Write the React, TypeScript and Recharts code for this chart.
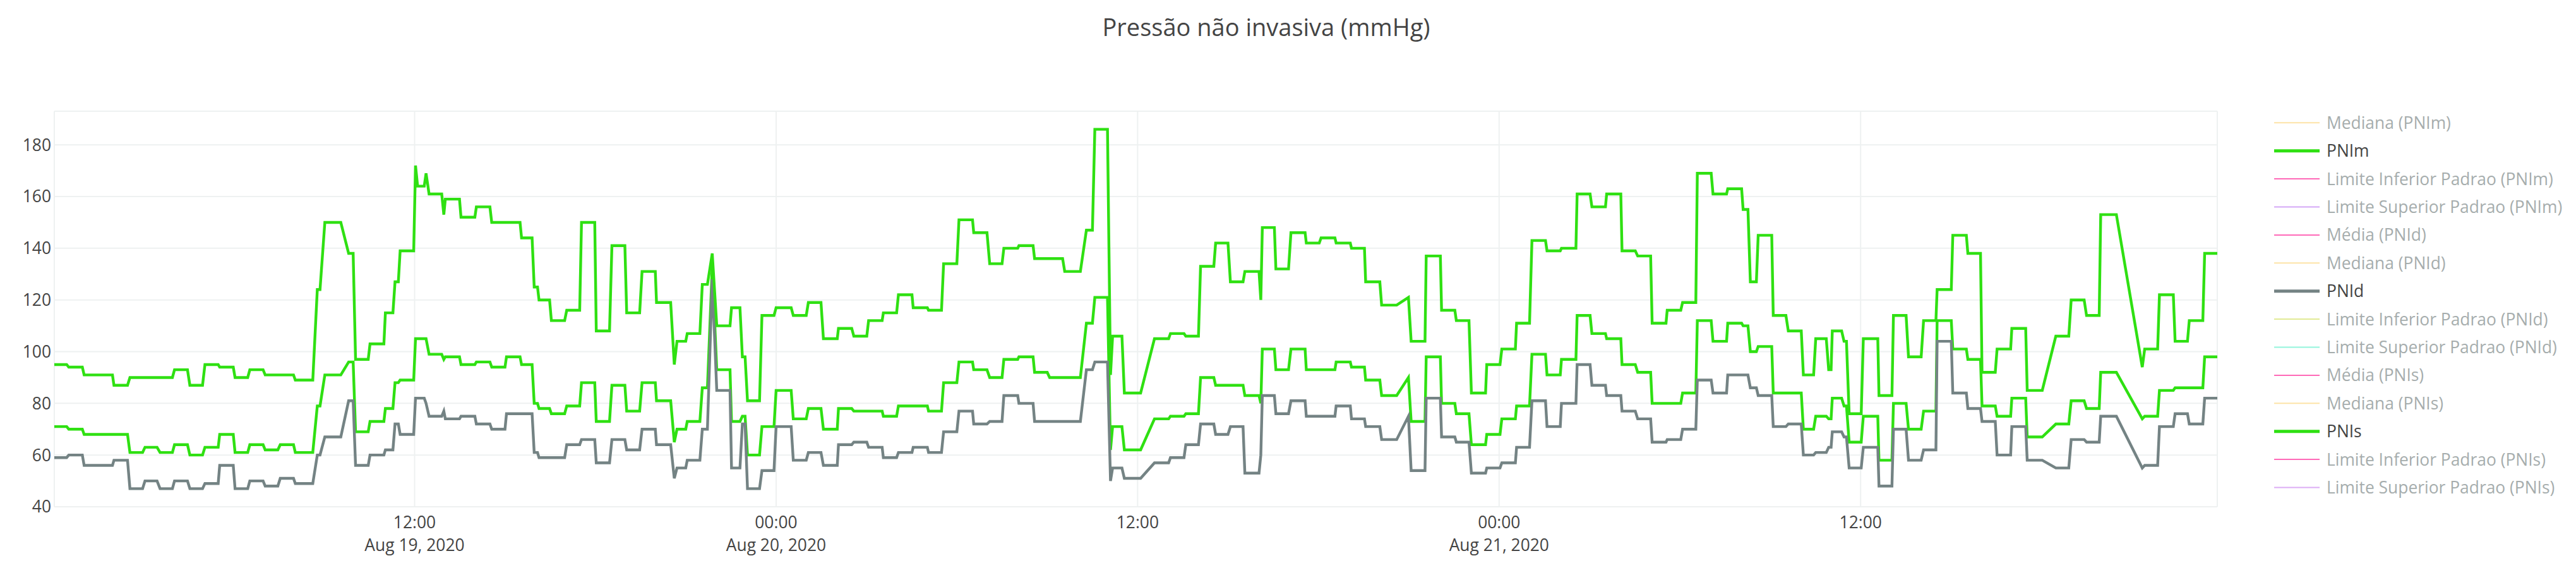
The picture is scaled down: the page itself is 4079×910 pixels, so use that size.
import { LineChart, Line, XAxis, YAxis, CartesianGrid } from "recharts";

// each reading is held from segStart to segEnd (hours since Aug 19, 2020 00:00)
const segStart = [
  0.04, 0.52, 1.03, 2.02, 2.55, 3.05, 3.55, 4.03, 4.54, 5.04,
  5.53, 6.04, 6.53, 7.04, 7.54, 8.04, 8.77, 9.02, 9.81, 10.04,
  10.52, 11.03, 11.35, 11.52, 12.03, 12.1, 12.38, 12.48, 12.97, 13.02,
  13.54, 14.05, 14.56, 15.05, 15.55, 15.97, 16.13, 16.54, 17.05, 17.54,
  18.03, 18.55, 19.04, 19.55, 20.03, 20.62, 20.71, 21.05, 21.55, 21.88,
  22.03, 22.52, 22.88, 23.05, 23.53, 24.0, 24.57, 25.07, 25.57, 26.07,
  26.58, 27.07, 27.56, 28.06, 28.55, 29.06, 29.56, 30.07, 30.56, 31.09,
  31.56, 32.06, 32.58, 33.08, 33.58, 34.3, 34.58, 35.1, 35.17, 35.56,
  36.56, 37.09, 37.6, 38.09, 38.59, 39.08, 39.56, 40.09, 40.14, 40.59,
  41.09, 41.6, 42.09, 42.59, 43.1, 43.57, 44.1, 44.99, 45.08, 45.58,
  46.09, 46.58, 47.08, 47.59, 48.09, 48.58, 49.09, 49.59, 50.07, 50.59,
  51.08, 51.57, 52.08, 52.6, 53.08, 53.58, 54.09, 54.58, 55.1, 55.59,
  56.1, 56.34, 56.6, 57.1, 57.6, 58.1, 58.51, 58.94, 59.06, 59.45,
  59.62, 60.09, 60.61, 61.09, 61.59, 62.09, 62.54, 63.06, 63.56, 64.03,
  64.53, 65.02, 65.53, 66.48, 66.99, 67.5, 67.97, 69.35, 69.43, 69.92,
  70.44, 70.91, 71.42,
];
const segEnd = [
  0.45, 0.97, 1.97, 2.47, 2.97, 3.45, 3.96, 4.46, 4.96, 5.48,
  5.98, 6.46, 6.97, 7.46, 7.98, 8.62, 8.86, 9.55, 9.96, 10.46,
  10.98, 11.28, 11.46, 11.97, 12.03, 12.32, 12.38, 12.9, 12.97, 13.49,
  14.0, 14.5, 15.0, 15.5, 15.9, 16.08, 16.48, 16.98, 17.48, 17.98,
  18.47, 18.98, 19.47, 19.99, 20.5, 20.62, 21.0, 21.47, 21.72, 21.88,
  22.47, 22.8, 22.97, 23.45, 23.93, 24.5, 25.0, 25.49, 26.03, 26.51,
  27.01, 27.52, 28.0, 28.51, 29.02, 29.49, 30.0, 30.52, 31.0, 31.5,
  32.02, 32.53, 33.0, 33.51, 34.1, 34.5, 35.0, 35.1, 35.48, 36.1,
  37.03, 37.54, 38.02, 38.53, 39.0, 39.5, 40.03, 40.09, 40.54, 41.01,
  41.56, 42.03, 42.55, 43.06, 43.53, 44.04, 44.6, 44.99, 45.54, 46.05,
  46.53, 47.0, 47.55, 48.03, 48.54, 49.01, 49.54, 50.03, 50.55, 51.02,
  51.53, 52.04, 52.52, 53.03, 53.54, 54.03, 54.53, 55.04, 55.55, 56.05,
  56.26, 56.54, 57.05, 57.52, 58.03, 58.44, 58.86, 59.02, 59.37, 59.53,
  60.02, 60.57, 61.04, 61.51, 62.01, 62.5, 63.01, 63.51, 63.98, 64.47,
  64.98, 65.48, 66.03, 66.91, 67.42, 67.92, 68.49, 69.35, 69.86, 70.38,
  70.85, 71.36, 71.84,
];
const pnis = [
  95, 94, 91, 87, 90, 90, 90, 93, 87, 95,
  94, 90, 93, 91, 91, 89, 124, 150, 138, 97,
  103, 115, 127, 139, 172, 164, 169, 161, 153, 159,
  152, 156, 150, 150, 144, 125, 120, 112, 116, 150,
  108, 141, 115, 131, 119, 95, 104, 107, 126, 138,
  110, 117, 98, 81, 114, 117, 114, 119, 105, 109,
  106, 112, 115, 122, 117, 116, 134, 151, 146, 134,
  140, 141, 136, 136, 131, 147, 186, 91, 106, 84,
  105, 107, 106, 133, 142, 127, 131, 120, 148, 132,
  146, 142, 144, 142, 140, 127, 118, 121, 104, 137,
  116, 112, 84, 95, 101, 111, 143, 139, 140, 161,
  156, 161, 139, 137, 111, 116, 119, 169, 161, 163,
  155, 127, 145, 114, 108, 91, 105, 93, 108, 104,
  76, 105, 83, 114, 98, 112, 124, 145, 138, 92,
  101, 109, 85, 106, 120, 114, 153, 94, 101, 122,
  104, 112, 138,
];
const pnim = [
  71, 70, 68, 68, 61, 63, 61, 64, 60, 63,
  68, 61, 64, 62, 64, 61, 79, 91, 96, 69,
  73, 78, 88, 89, 105, 105, 105, 99, 97, 98,
  95, 96, 94, 98, 95, 80, 78, 76, 79, 88,
  73, 87, 77, 88, 81, 65, 70, 73, 86, 133,
  93, 73, 75, 60, 71, 85, 74, 78, 70, 78,
  77, 77, 75, 79, 79, 77, 88, 96, 93, 90,
  97, 98, 92, 90, 90, 111, 121, 62, 71, 62,
  74, 75, 76, 90, 87, 87, 83, 80, 101, 93,
  101, 93, 93, 96, 94, 89, 83, 90, 73, 98,
  80, 76, 64, 68, 74, 79, 99, 91, 97, 114,
  107, 105, 95, 92, 80, 80, 84, 112, 104, 111,
  110, 100, 102, 84, 84, 70, 75, 74, 82, 79,
  65, 75, 58, 80, 70, 77, 112, 101, 97, 79,
  75, 82, 67, 72, 81, 78, 92, 74, 75, 85,
  86, 86, 98,
];
const pnid = [
  59, 60, 56, 58, 47, 50, 47, 50, 47, 49,
  56, 47, 50, 48, 51, 49, 60, 67, 81, 56,
  60, 62, 72, 68, 82, 82, 80, 75, 77, 74,
  75, 72, 70, 76, 76, 61, 59, 59, 64, 66,
  57, 66, 62, 70, 64, 51, 55, 58, 70, 128,
  85, 55, 72, 47, 54, 71, 58, 61, 56, 64,
  65, 63, 59, 61, 63, 61, 69, 77, 72, 73,
  83, 80, 73, 73, 73, 93, 96, 50, 55, 51,
  57, 59, 64, 72, 68, 71, 53, 60, 83, 76,
  81, 75, 75, 79, 74, 71, 66, 75, 54, 82,
  67, 65, 53, 55, 57, 63, 81, 71, 80, 95,
  87, 83, 77, 74, 65, 66, 70, 89, 84, 91,
  91, 86, 83, 71, 72, 60, 61, 63, 69, 67,
  55, 63, 48, 70, 58, 62, 104, 84, 78, 73,
  60, 71, 58, 55, 66, 65, 75, 55, 56, 71,
  76, 72, 82,
];

const tickHours = [12, 24, 36, 48, 60];
const tickClock = ["12:00", "00:00", "12:00", "00:00", "12:00"];
const tickDay = ["Aug 19, 2020", "Aug 20, 2020", "", "Aug 21, 2020", ""];
const yTicks = [40, 60, 80, 100, 120, 140, 160, 180];

const legendNames = [
  "Mediana (PNIm)",
  "PNIm",
  "Limite Inferior Padrao (PNIm)",
  "Limite Superior Padrao (PNIm)",
  "Média (PNId)",
  "Mediana (PNId)",
  "PNId",
  "Limite Inferior Padrao (PNId)",
  "Limite Superior Padrao (PNId)",
  "Média (PNIs)",
  "Mediana (PNIs)",
  "PNIs",
  "Limite Inferior Padrao (PNIs)",
  "Limite Superior Padrao (PNIs)",
];
const legendColors = [
  "#fde3a7", "#2fe012", "#ff6ab8", "#d4a8f7", "#ff6ab8", "#fde3a7", "#748384",
  "#e1ea96", "#93f5dc", "#ff6ab8", "#fde3a7", "#2fe012", "#ff6ab8", "#dcacf5",
];
const legendShown = [
  false, true, false, false, false, false, true,
  false, false, false, false, true, false, false,
];

const FONT = '"Open Sans", verdana, arial, sans-serif';
const TEXT = "#444";
const FADED = "#a6adad";
const GRID = "#eef1f1";
const GREEN = "#2fe012";
const GREY = "#748384";

const rows: { t: number; PNIs: number; PNIm: number; PNId: number }[] = [];
segStart.forEach((s, i) => {
  const v = { PNIs: pnis[i], PNIm: pnim[i], PNId: pnid[i] };
  rows.push({ t: s, ...v });
  if (segEnd[i] > s) rows.push({ t: segEnd[i], ...v });
});

function TimeTick({ x, y, payload }: any) {
  const i = tickHours.indexOf(payload.value);
  return (
    <text x={x} y={y} textAnchor="middle" fill={TEXT} fontSize={26.4} fontFamily={FONT}>
      <tspan x={x} dy={34}>{tickClock[i]}</tspan>
      {tickDay[i] ? <tspan x={x} dy={36}>{tickDay[i]}</tspan> : null}
    </text>
  );
}

export default function App() {
  return (
    <div style={{ position: "absolute", left: 0, top: 0, width: 4079, height: 910, background: "#fff" }}>
      <LineChart
        width={4079}
        height={910}
        data={rows}
        margin={{ top: 176, right: 568, bottom: 0, left: 0 }}
      >
        <CartesianGrid stroke={GRID} strokeWidth={2} />
        <XAxis
          dataKey="t"
          type="number"
          domain={["dataMin", "dataMax"]}
          ticks={tickHours}
          tick={<TimeTick />}
          axisLine={false}
          tickLine={false}
          tickSize={0}
          tickMargin={0}
          height={108}
          interval={0}
        />
        <YAxis
          type="number"
          domain={[40, 193]}
          ticks={yTicks}
          width={86}
          axisLine={false}
          tickLine={false}
          tickSize={3}
          tickMargin={2}
          tick={{ fontSize: 26.4, fill: TEXT, fontFamily: FONT }}
        />
        <Line type="linear" dataKey="PNIm" stroke={GREEN} strokeWidth={4.4} dot={false} isAnimationActive={false} />
        <Line type="linear" dataKey="PNId" stroke={GREY} strokeWidth={4.4} dot={false} isAnimationActive={false} />
        <Line type="linear" dataKey="PNIs" stroke={GREEN} strokeWidth={4.4} dot={false} isAnimationActive={false} />
      </LineChart>
      <svg
        width={4079}
        height={910}
        style={{ position: "absolute", left: 0, top: 0, pointerEvents: "none" }}
      >
        <text x={2005} y={57} textAnchor="middle" fill={TEXT} fontSize={38} fontFamily={FONT}>
          Pressão não invasiva (mmHg)
        </text>
        {legendNames.map((name, i) => {
          const cy = 194.3 + 44.4 * i;
          return (
            <g key={name}>
              <line
                x1={3601}
                x2={3673}
                y1={cy}
                y2={cy}
                stroke={legendColors[i]}
                strokeWidth={legendShown[i] ? 5 : 2}
              />
              <text
                x={3684}
                y={cy + 9.4}
                fill={legendShown[i] ? TEXT : FADED}
                fontSize={26.4}
                fontFamily={FONT}
              >
                {name}
              </text>
            </g>
          );
        })}
      </svg>
    </div>
  );
}
